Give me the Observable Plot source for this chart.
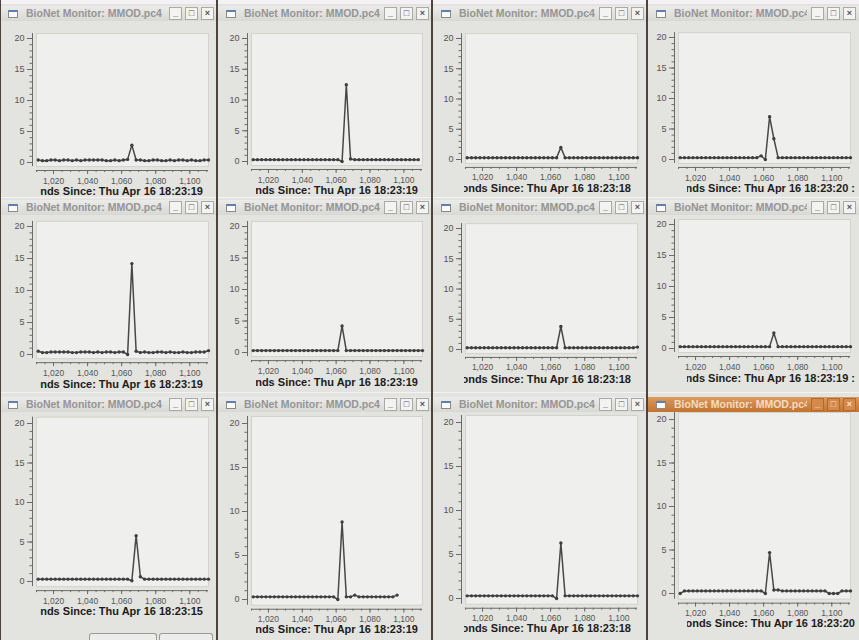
<!DOCTYPE html>
<html><head><meta charset="utf-8">
<script src="https://cdn.jsdelivr.net/npm/d3@7"></script>
<script src="https://cdn.jsdelivr.net/npm/@observablehq/plot@0.6"></script>
<style>
html,body{margin:0;padding:0;background:#f4f2f7;}
#root{position:relative;width:859px;height:640px;overflow:hidden;font-family:"Liberation Sans",Arial,sans-serif;}
.win{position:absolute;background:#e3e3df;overflow:hidden;}
.tb{position:absolute;left:0;right:0;height:15px;background:linear-gradient(#ebebe9,#d8d8d4);}
.active .tb{background:linear-gradient(#dd9a5c,#c2732f);}
.tt{position:absolute;left:26px;top:1px;font-weight:bold;font-size:10.5px;line-height:13px;color:#959595;white-space:nowrap;overflow:hidden;}
.active .tt{color:#f3dcc4;}
.icon{position:absolute;left:8px;top:4px;width:8px;height:5px;border:1px solid #8a8a8a;border-top:2px solid #5f7fae;background:#fafafa;}
.btn{position:absolute;top:1px;width:11px;height:11px;border:1px solid #a9a9a5;background:#f3f3f1;font-size:9px;line-height:11px;text-align:center;color:#555;font-weight:bold;}
.active .btn{background:#d58a4c;border-color:#b06a30;color:#f4e2d0;}
.lbclip{position:absolute;overflow:hidden;height:13px;}
.lb{position:absolute;right:0;top:0;white-space:nowrap;font-weight:bold;font-size:11px;line-height:13px;color:#1c1c1c;}
.sep{position:absolute;top:0;height:640px;width:2px;background:#4f423a;}
.bbtn{position:absolute;height:12px;border:1px solid #9a9a96;border-bottom:none;border-radius:3px 3px 0 0;background:#ececea;}
</style>
</head><body><div id="root"></div>
<script>
// ---- data ----
const seconds = [1011, 1013.5, 1016, 1018.5, 1021, 1023.5, 1026, 1028.5, 1031, 1033.5, 1036, 1038.5, 1041, 1043.5, 1046, 1048.5, 1051, 1053.5, 1056, 1058.5, 1061, 1063.5, 1066, 1068.5, 1071, 1073.5, 1076, 1078.5, 1081, 1083.5, 1086, 1088.5, 1091, 1093.5, 1096, 1098.5, 1101, 1103.5, 1106, 1108.5, 1111];
const p1  = [0.4,0.3,0.3,0.4,0.4,0.3,0.4,0.4,0.3,0.4,0.3,0.4,0.4,0.4,0.4,0.4,0.3,0.3,0.4,0.3,0.4,0.5,2.8,0.4,0.4,0.3,0.3,0.4,0.4,0.3,0.3,0.4,0.3,0.4,0.4,0.3,0.4,0.3,0.3,0.4,0.4];
const p2  = [0.3,0.3,0.3,0.3,0.3,0.3,0.3,0.3,0.3,0.3,0.3,0.3,0.3,0.3,0.3,0.3,0.3,0.3,0.3,0.3,0.3,0.0,12.5,0.4,0.3,0.3,0.3,0.3,0.3,0.3,0.3,0.3,0.3,0.3,0.3,0.3,0.3,0.3,0.3,0.3];
const p3  = [0.3,0.3,0.3,0.3,0.3,0.3,0.3,0.3,0.3,0.3,0.3,0.3,0.3,0.3,0.3,0.3,0.3,0.3,0.3,0.3,0.3,0.3,2.0,0.3,0.3,0.3,0.3,0.3,0.3,0.3,0.3,0.3,0.3,0.3,0.3,0.3,0.3,0.3,0.3,0.3,0.3];
const p4  = [0.3,0.3,0.3,0.3,0.3,0.3,0.3,0.3,0.3,0.3,0.3,0.3,0.3,0.3,0.3,0.3,0.3,0.3,0.3,0.6,0.0,7.0,3.4,0.3,0.3,0.3,0.3,0.3,0.3,0.3,0.3,0.3,0.3,0.3,0.3,0.3,0.3,0.3,0.3,0.3,0.3];
const p5  = [0.5,0.3,0.3,0.4,0.4,0.4,0.4,0.4,0.3,0.3,0.4,0.4,0.4,0.3,0.4,0.3,0.4,0.4,0.3,0.4,0.4,0.0,14.2,0.5,0.3,0.4,0.3,0.3,0.4,0.4,0.3,0.4,0.3,0.3,0.4,0.3,0.3,0.4,0.4,0.4,0.6];
const p6  = [0.3,0.3,0.3,0.3,0.3,0.3,0.3,0.3,0.3,0.3,0.3,0.3,0.3,0.3,0.3,0.3,0.3,0.3,0.3,0.3,0.3,4.2,0.3,0.3,0.3,0.3,0.3,0.3,0.3,0.3,0.3,0.3,0.3,0.3,0.3,0.3,0.3,0.3,0.3,0.3,0.3];
const p7  = [0.3,0.3,0.3,0.3,0.3,0.3,0.3,0.3,0.3,0.3,0.3,0.3,0.3,0.3,0.3,0.3,0.3,0.3,0.3,0.3,0.3,0.3,3.8,0.3,0.3,0.3,0.3,0.3,0.3,0.3,0.3,0.3,0.3,0.3,0.3,0.3,0.3,0.3,0.3,0.3,0.4];
const p8  = [0.3,0.3,0.3,0.3,0.3,0.3,0.3,0.3,0.3,0.3,0.3,0.3,0.3,0.3,0.3,0.3,0.3,0.3,0.3,0.3,0.3,0.3,2.5,0.3,0.3,0.3,0.3,0.3,0.3,0.3,0.3,0.3,0.3,0.3,0.3,0.3,0.3,0.3,0.3,0.3,0.3];
const p9  = [0.3,0.3,0.3,0.3,0.3,0.3,0.3,0.3,0.3,0.3,0.3,0.3,0.3,0.3,0.3,0.3,0.3,0.3,0.3,0.3,0.3,0.3,0.1,5.8,0.6,0.3,0.3,0.3,0.3,0.3,0.3,0.3,0.3,0.3,0.3,0.3,0.3,0.3,0.3,0.3,0.3];
const p10 = [0.3,0.3,0.3,0.3,0.3,0.3,0.3,0.3,0.3,0.3,0.3,0.3,0.3,0.3,0.3,0.3,0.3,0.3,0.3,0.3,0.0,8.8,0.3,0.3,0.5,0.3,0.3,0.3,0.3,0.3,0.3,0.3,0.3,0.3,0.5];
const p11 = [0.3,0.3,0.3,0.3,0.3,0.3,0.3,0.3,0.3,0.3,0.3,0.3,0.3,0.3,0.3,0.3,0.3,0.3,0.3,0.3,0.3,0.0,6.3,0.3,0.3,0.3,0.3,0.3,0.3,0.3,0.3,0.3,0.3,0.3,0.3,0.3,0.3,0.3,0.3,0.3,0.3];
const p12 = [0.0,0.3,0.3,0.3,0.3,0.3,0.3,0.3,0.3,0.3,0.3,0.3,0.3,0.3,0.3,0.3,0.3,0.3,0.3,0.3,0.0,4.7,0.4,0.4,0.3,0.3,0.3,0.3,0.3,0.3,0.3,0.3,0.3,0.3,0.3,0.0,0.0,0.0,0.3,0.3,0.3];
const series = [p1,p2,p3,p4,p5,p6,p7,p8,p9,p10,p11,p12];
const stamps = ["18:23:19","18:23:19","18:23:18","18:23:20 :","18:23:19","18:23:19","18:23:18","18:23:19 :","18:23:15","18:23:19","18:23:18","18:23:20"];
const yMajor = [0,5,10,15,20];
const yMinor = [0,1,2,3,4,5,6,7,8,9,10,11,12,13,14,15,16,17,18,19,20];
const xMajor = [1020,1040,1060,1080,1100];
const xMinor = [1010,1015,1020,1025,1030,1035,1040,1045,1050,1055,1060,1065,1070,1075,1080,1085,1090,1095,1100,1105,1110];
const xDomain = [1010, 1111];
const yDomain = [-0.65, 20.8];
const windowTitle = "BioNet Monitor: MMOD.pc4";

// ---- layout ----
const cols = [
  {L:0,   W:217, fL:36,  fR:208, cL:40,  lR:203},
  {L:218, W:214, fL:251, fR:422, cL:256, lR:418},
  {L:433, W:214, fL:465, fR:637, cL:464, lR:631},
  {L:648, W:211, fL:678, fR:850, cL:687, lR:855}
];
const rows = [{T:4,H:193,tb:6,lab:29},{T:198,H:194,tb:200,lab:30},{T:393,H:247,tb:397,lab:30}];
const yPos = [[38,162],[38,161],[38,159],[37,159],[226,354],[226,352],[228,349],[224,348],[423,581],[423,599],[422,598],[419,593]];

const root = document.getElementById("root");
series.forEach((ys, i) => {
  const c = cols[i % 4], r = rows[Math.floor(i / 4)];
  const win = document.createElement("div");
  win.className = "win" + (i === 11 ? " active" : "");
  Object.assign(win.style, {left: c.L + "px", top: r.T + "px", width: c.W + "px", height: r.H + "px"});
  const tb = document.createElement("div");
  tb.className = "tb";
  tb.style.top = (r.tb - r.T) + "px";
  tb.innerHTML = `<div class="icon"></div><div class="tt" style="width:${c.W - 26 - 52}px">${windowTitle}</div>` +
    `<div class="btn" style="right:35px">_</div><div class="btn" style="right:19px">□</div><div class="btn" style="right:3px">×</div>`;
  win.appendChild(tb);

  const [y20, y0] = yPos[i];
  const k = (y0 - y20) / 20;
  const svgTop = y20 - 14;
  const svgH = y0 + 24 - svgTop;
  const data = ys.map((v, j) => ({x: seconds[j], y: v}));
  const chart = Plot.plot({
    width: c.W, height: svgH,
    marginLeft: c.fL - c.L, marginRight: c.L + c.W - c.fR,
    marginTop: 14 - (yDomain[1] - 20) * k,
    marginBottom: 24 + yDomain[0] * k,
    style: {background: "transparent", fontFamily: "Liberation Sans, Arial, sans-serif", fontSize: "8.5px", color: "#555", overflow: "visible"},
    x: {domain: xDomain, label: null},
    y: {domain: yDomain, label: null},
    marks: [
      Plot.frame({fill: "#efefed", stroke: "#d2d2ce"}),
      Plot.ruleX([xDomain[0]], {dx: -4, stroke: "#6a6a6a"}),
      Plot.ruleY([yDomain[0]], {dy: 4, stroke: "#6a6a6a"}),
      Plot.axisY({ticks: yMinor, tickSize: 2.5, fill: "none", dx: -4, stroke: "#6a6a6a", label: null}),
      Plot.axisY({ticks: yMajor, tickSize: 5, tickPadding: 3, dx: -4, stroke: "#6a6a6a", fill: "#555", fontSize: 9, label: null}),
      Plot.axisX({ticks: xMinor, tickSize: 2, fill: "none", dy: 4, stroke: "#6a6a6a", label: null}),
      Plot.axisX({ticks: xMajor, tickSize: 4, tickPadding: 3, dy: 4, stroke: "#6a6a6a", fill: "#555", tickFormat: d3.format(","), label: null}),
      Plot.line(data, {x: "x", y: "y", stroke: "#484848", strokeWidth: 1.5}),
      Plot.dot(data, {x: "x", y: "y", r: 1.7, fill: "#3e3e3e"})
    ]
  });
  chart.style.position = "absolute";
  chart.style.left = "0px";
  chart.style.top = (svgTop - r.T) + "px";
  win.appendChild(chart);

  const labelY = y0 + r.lab;
  const clip = document.createElement("div");
  clip.className = "lbclip";
  Object.assign(clip.style, {left: (c.cL - c.L) + "px", width: (c.lR - c.cL) + "px", top: (labelY - 6 - r.T) + "px"});
  clip.innerHTML = `<span class="lb">Seconds Since: Thu Apr 16 ${stamps[i]}</span>`;
  win.appendChild(clip);
  if (i === 8) {
    win.insertAdjacentHTML("beforeend", `<div class="bbtn" style="left:89px;width:66px;top:${633 - r.T}px"></div><div class="bbtn" style="left:159px;width:52px;top:${633 - r.T}px"></div>`);
  }
  root.appendChild(win);
});
[0, 216, 431, 646].forEach(x => {
  const s = document.createElement("div");
  s.className = "sep";
  s.style.left = x + "px";
  if (x === 0) s.style.width = "1px";
  root.appendChild(s);
});
</script></body></html>
